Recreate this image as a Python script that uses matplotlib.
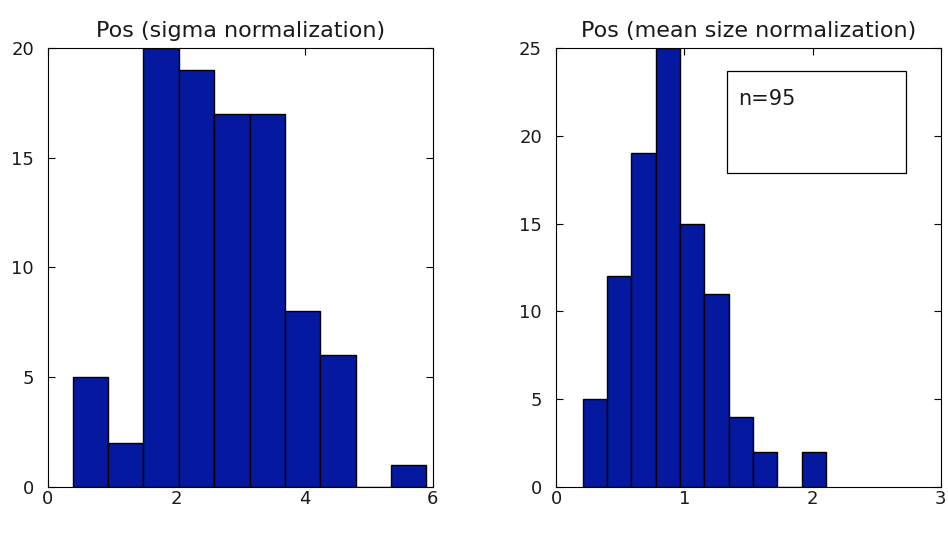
import numpy as np
import matplotlib.pyplot as plt
from matplotlib.patches import Rectangle

# --- Data ----------------------------------------------------------------
sigma_counts = [5, 2, 20, 19, 17, 17, 8, 6, 0, 1]
sigma_range = (0.385, 5.90)

mean_counts = [5, 12, 19, 25, 15, 11, 4, 2, 0, 2]
mean_range = (0.208, 2.104)

titles = ["Pos (sigma normalization)", "Pos (mean size normalization)"]
xticks = [[0, 2, 4, 6], [0, 1, 2, 3]]
yticks = [[0, 5, 10, 15, 20], [0, 5, 10, 15, 20, 25]]
xlims = [(0, 6), (0, 3)]
ylims = [(0, 20), (0, 25)]
n_label = "n=95"

BAR_COLOR = "#0418a0"
TEXT_COLOR = "#1a1a1a"

plt.rcParams["font.family"] = ["DejaVu Sans"]

fig = plt.figure(figsize=(9.48, 5.39), dpi=100)
axes = [fig.add_axes([0.0506, 0.0965, 0.406, 0.8145]),
        fig.add_axes([0.5865, 0.0965, 0.406, 0.8145])]

for ax, counts, rng, title, xt, yt, xl, yl in zip(
        axes, [sigma_counts, mean_counts], [sigma_range, mean_range],
        titles, xticks, yticks, xlims, ylims):
    edges = np.linspace(rng[0], rng[1], len(counts) + 1)
    ax.bar(edges[:-1], counts, width=np.diff(edges), align="edge",
           color=BAR_COLOR, edgecolor="black", linewidth=1.0, zorder=2)
    ax.set_xlim(*xl)
    ax.set_ylim(*yl)
    ax.set_xticks(xt)
    ax.set_yticks(yt)
    ax.tick_params(direction="in", length=5, top=True, right=True,
                   labelsize=13, width=0.8, colors="black",
                   labelcolor=TEXT_COLOR)
    ax.tick_params(axis="x", pad=2)
    ax.tick_params(axis="y", pad=10)
    for s in ax.spines.values():
        s.set_linewidth(0.8)
    ax.set_title(title, fontsize=16, pad=8, color=TEXT_COLOR)

# --- n label box on right panel ------------------------------------------
ax = axes[1]
ax.add_patch(Rectangle((1.33, 17.9), 1.397, 5.8, facecolor="white",
                       edgecolor="black", linewidth=0.9, zorder=3))
ax.text(1.416, 22.1, n_label, fontsize=15, va="center", ha="left",
        color=TEXT_COLOR, zorder=4)

plt.savefig("out.png", dpi=100)
plt.close()
